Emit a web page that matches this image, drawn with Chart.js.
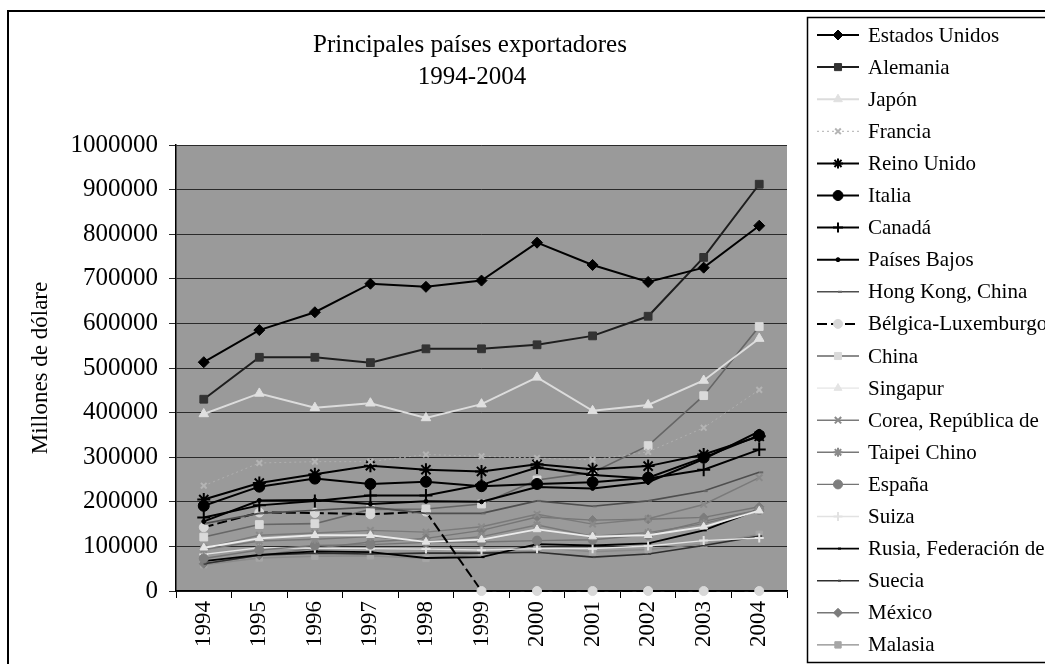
<!DOCTYPE html>
<html lang="es">
<head>
<meta charset="utf-8">
<script src="https://cdn.jsdelivr.net/npm/chart.js@4/dist/chart.umd.min.js"></script>
<style>
  html, body { margin: 0; padding: 0; background: #fff; }
  canvas { display: block; }
</style>
</head>
<body>
<canvas id="c" width="1045" height="664"></canvas>
<script>
// Exportaciones de mercancías, millones de dólares
const years = ['1994','1995','1996','1997','1998','1999','2000','2001','2002','2003','2004'];
const yTicks = [0,100000,200000,300000,400000,500000,600000,700000,800000,900000,1000000];

const estadosUnidos = [513000,585000,625000,689000,682000,696000,781000,731000,693000,725000,819000];
const alemania      = [430000,524000,524000,512000,543000,543000,552000,572000,616000,748000,912000];
const japon         = [397000,443000,411000,421000,388000,419000,479000,404000,417000,472000,566000];
const francia       = [236000,287000,290000,290000,306000,302000,298000,294000,312000,366000,451000];
const reinoUnido    = [205000,242000,262000,281000,272000,268000,284000,273000,280000,306000,347000];
const italia        = [191000,234000,252000,240000,245000,235000,240000,244000,254000,299000,349000];
const canada        = [165000,192000,202000,214000,214000,238000,277000,260000,252000,272000,317000];
const paisesBajos   = [156000,203000,204000,195000,201000,200000,233000,230000,244000,296000,358000];
const hongKong      = [151000,174000,181000,188000,174000,174000,202000,190000,202000,224000,266000];
const belgicaLux    = [143000,176000,175000,172000,178000,0,0,0,0,0,0];
const china         = [121000,149000,151000,183000,184000,195000,249000,266000,326000,438000,593000];
const singapur      = [97000,118000,125000,125000,110000,115000,138000,122000,125000,144000,180000];
const corea         = [96000,125000,130000,136000,132000,144000,172000,150000,162000,194000,254000];
const taipeiChino   = [93000,112000,116000,122000,111000,122000,148000,123000,131000,151000,182000];
const espana        = [73000,92000,102000,104000,109000,110000,113000,115000,126000,156000,182000];
const suiza         = [82000,97000,96000,95000,94000,92000,95000,95000,101000,113000,119000];
const rusia         = [67000,81000,89000,87000,74000,76000,105000,102000,107000,136000,183000];
const suecia        = [61000,80000,85000,83000,85000,85000,87000,76000,83000,102000,123000];
const mexico        = [61000,80000,96000,110000,118000,136000,166000,159000,161000,165000,189000];
const malasia       = [59000,74000,78000,79000,73000,85000,98000,88000,93000,105000,127000];

// series: name, values, line colour, marker style, marker fill, marker radius, line width, dash
const series = [
  ['Estados Unidos', estadosUnidos, '#000000', 'rectRot', '#000000', 5.5, 2, []],
  ['Alemania', alemania, '#1e1e1e', 'rect', '#333333', 5.5, 2, []],
  ['Japón', japon, '#dcdcdc', 'triangle', '#e0e0e0', 5.5, 2, []],
  ['Francia', francia, '#b0b0b0', 'crossRot', '#b4b4b4', 4, 1, [2, 3]],
  ['Reino Unido', reinoUnido, '#000000', 'star', '#000000', 6.5, 2, []],
  ['Italia', italia, '#000000', 'circle', '#000000', 5.5, 2, []],
  ['Canadá', canada, '#000000', 'cross', '#000000', 6.5, 2, []],
  ['Países Bajos', paisesBajos, '#000000', 'circle', '#000000', 2, 2, []],
  ['Hong Kong, China', hongKong, '#4e4e4e', 'dash', '#666666', 4, 1.6, []],
  ['Bélgica-Luxemburgo', belgicaLux, '#000000', 'circle', '#d8d8d8', 4.5, 2, [10, 4]],
  ['China', china, '#666666', 'rect', '#dadada', 5.5, 1.6, []],
  ['Singapur', singapur, '#ececec', 'triangle', '#e4e4e4', 4.5, 1.8, []],
  ['Corea, República de', corea, '#7a7a7a', 'crossRot', '#8a8a8a', 4.5, 1.4, []],
  ['Taipei Chino', taipeiChino, '#787878', 'star', '#8a8a8a', 4.5, 1.4, []],
  ['España', espana, '#757575', 'circle', '#7e7e7e', 4.5, 1.4, []],
  ['Suiza', suiza, '#e2e2e2', 'cross', '#e2e2e2', 4.5, 1.4, []],
  ['Rusia, Federación de', rusia, '#000000', 'dash', '#000000', 3, 1.8, []],
  ['Suecia', suecia, '#2e2e2e', 'dash', '#444444', 3, 1.6, []],
  ['México', mexico, '#767676', 'rectRot', '#7c7c7c', 4.5, 1.4, []],
  ['Malasia', malasia, '#8a8a8a', 'rect', '#a6a6a6', 4.5, 1.4, []]
];

const datasets = series.map(s => ({
  label: s[0],
  data: s[1],
  borderColor: s[2],
  backgroundColor: s[4],
  pointStyle: s[3],
  pointBackgroundColor: s[4],
  pointBorderColor: s[4],
  pointRadius: s[5],
  pointBorderWidth: (s[3] === 'cross' || s[3] === 'crossRot' || s[3] === 'star' || s[3] === 'dash') ? 2 : 1,
  borderWidth: s[6],
  borderDash: s[7],
  tension: 0,
  fill: false,
  clip: false
}));

const SERIF = '"Liberation Serif", "Times New Roman", serif';

const decor = {
  id: 'decor',
  beforeDraw(chart) {
    const { ctx, chartArea: a, width, height } = chart;
    ctx.save();
    ctx.fillStyle = '#ffffff';
    ctx.fillRect(0, 0, width, height);
    ctx.fillStyle = '#9a9a9a';
    ctx.fillRect(a.left, a.top, a.right - a.left, a.bottom - a.top);
    ctx.restore();
  },
  afterDraw(chart) {
    const { ctx } = chart;
    ctx.save();
    // outer frame
    ctx.strokeStyle = '#000';
    ctx.lineWidth = 2;
    ctx.strokeRect(8, 11, 1100, 700);

    // title
    ctx.fillStyle = '#000';
    ctx.font = '25px ' + SERIF;
    ctx.textAlign = 'center';
    ctx.textBaseline = 'middle';
    ctx.fillText('Principales países exportadores', 470, 45);
    ctx.fillText('1994-2004', 472, 77);

    // y axis title
    ctx.save();
    ctx.translate(41, 368);
    ctx.rotate(-Math.PI / 2);
    ctx.font = '23px ' + SERIF;
    ctx.fillText('Millones de dólare', 0, 0);
    ctx.restore();

    // legend box
    ctx.lineWidth = 1.5;
    ctx.strokeRect(807.5, 17.5, 300, 645);
    ctx.font = '21px ' + SERIF;
    ctx.textAlign = 'left';
    ctx.textBaseline = 'middle';
    const H = Chart.helpers;
    chart.data.datasets.forEach((ds, i) => {
      const y = 35 + 32.1 * i;
      ctx.save();
      ctx.strokeStyle = ds.borderColor;
      ctx.lineWidth = ds.borderWidth;
      ctx.setLineDash(ds.borderDash || []);
      ctx.beginPath();
      ctx.moveTo(817, y);
      ctx.lineTo(859, y);
      ctx.stroke();
      ctx.setLineDash([]);
      ctx.fillStyle = ds.pointBackgroundColor;
      ctx.strokeStyle = ds.pointBorderColor;
      ctx.lineWidth = ds.pointBorderWidth;
      if (H && H.drawPoint) {
        H.drawPoint(ctx, { pointStyle: ds.pointStyle, radius: Math.min(ds.pointRadius, 5), rotation: 0, borderWidth: ds.pointBorderWidth }, 838, y);
      }
      ctx.restore();
      ctx.fillStyle = '#000';
      ctx.fillText(ds.label, 868, y + 1);
    });
    ctx.restore();
  }
};

new Chart(document.getElementById('c'), {
  type: 'line',
  data: { labels: years, datasets },
  plugins: [decor],
  options: {
    responsive: false,
    animation: false,
    events: [],
    layout: { padding: { left: 0, top: 145, right: 258, bottom: 0 } },
    plugins: { legend: { display: false }, tooltip: { enabled: false }, title: { display: false } },
    scales: {
      x: {
        type: 'category',
        offset: true,
        afterFit(scale) { scale.height = 73; },
        grid: { offset: true, drawOnChartArea: false, drawTicks: true, tickLength: 7, color: '#000', lineWidth: 1 },
        border: { color: '#000', width: 1.5 },
        ticks: {
          autoSkip: false, minRotation: 90, maxRotation: 90, padding: 3,
          color: '#000', font: { family: SERIF, size: 23 }
        }
      },
      y: {
        min: 0, max: 1000000,
        afterFit(scale) { scale.width = 176; },
        afterBuildTicks(scale) { scale.ticks = yTicks.map(v => ({ value: v })); },
        grid: { color: '#2a2a2a', lineWidth: 1, tickLength: 7, drawTicks: true },
        border: { color: '#000', width: 1.5 },
        ticks: {
          padding: 11, color: '#000',
          font: { family: SERIF, size: 25 },
          callback: v => String(v)
        }
      }
    }
  }
});
</script>
</body>
</html>
